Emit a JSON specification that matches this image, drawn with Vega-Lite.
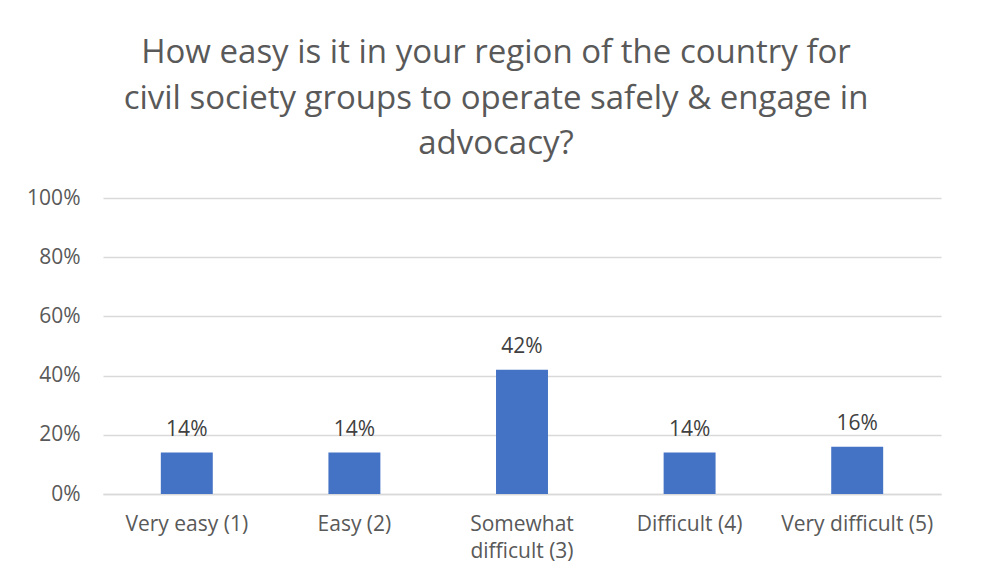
{
  "$schema": "https://vega.github.io/schema/vega-lite/v6.json",
  "width": 838,
  "height": 296,
  "autosize": {"type": "none"},
  "padding": {"left": 103, "top": 198, "right": 51, "bottom": 85},
  "background": "white",
  "title": {
    "text": ["How easy is it in your region of the country for", "civil society groups to operate safely & engage in", "advocacy?"],
    "font": "Open Sans",
    "fontSize": 33,
    "fontWeight": "normal",
    "color": "#595959",
    "lineHeight": 45.5,
    "anchor": "middle",
    "dx": -26,
    "offset": 26
  },
  "data": {
    "values": [
      {"category": "Very easy (1)", "value": 0.14},
      {"category": "Easy (2)", "value": 0.14},
      {"category": "Somewhat difficult (3)", "value": 0.42},
      {"category": "Difficult (4)", "value": 0.14},
      {"category": "Very difficult (5)", "value": 0.16}
    ]
  },
  "config": {
    "view": {"stroke": null},
    "font": "Open Sans"
  },
  "encoding": {
    "x": {
      "field": "category",
      "type": "nominal",
      "sort": null,
      "scale": {"paddingInner": 0.69, "paddingOuter": 0.345},
      "axis": {
        "title": null,
        "labelAngle": 0,
        "labelFont": "Open Sans",
        "labelFontSize": 21,
        "labelColor": "#595959",
        "labelPadding": 19,
        "labelLineHeight": 27,
        "labelExpr": "datum.label == 'Somewhat difficult (3)' ? ['Somewhat', 'difficult (3)'] : datum.label",
        "ticks": false,
        "domainColor": "#d9d9d9",
        "domainWidth": 1.5
      }
    },
    "y": {
      "field": "value",
      "type": "quantitative",
      "scale": {"domain": [0, 1]},
      "axis": {
        "title": null,
        "format": ".0%",
        "values": [0, 0.2, 0.4, 0.6, 0.8, 1],
        "labelFont": "Open Sans",
        "labelFontSize": 21,
        "labelColor": "#595959",
        "labelPadding": 23,
        "ticks": false,
        "domain": false,
        "gridColor": "#d9d9d9",
        "gridWidth": 1.5
      }
    }
  },
  "layer": [
    {"mark": {"type": "bar", "color": "#4472C4"}},
    {
      "mark": {"type": "text", "baseline": "bottom", "dy": -13, "fontSize": 21, "color": "#404040", "font": "Open Sans"},
      "encoding": {"text": {"field": "value", "type": "quantitative", "format": ".0%"}}
    }
  ]
}
